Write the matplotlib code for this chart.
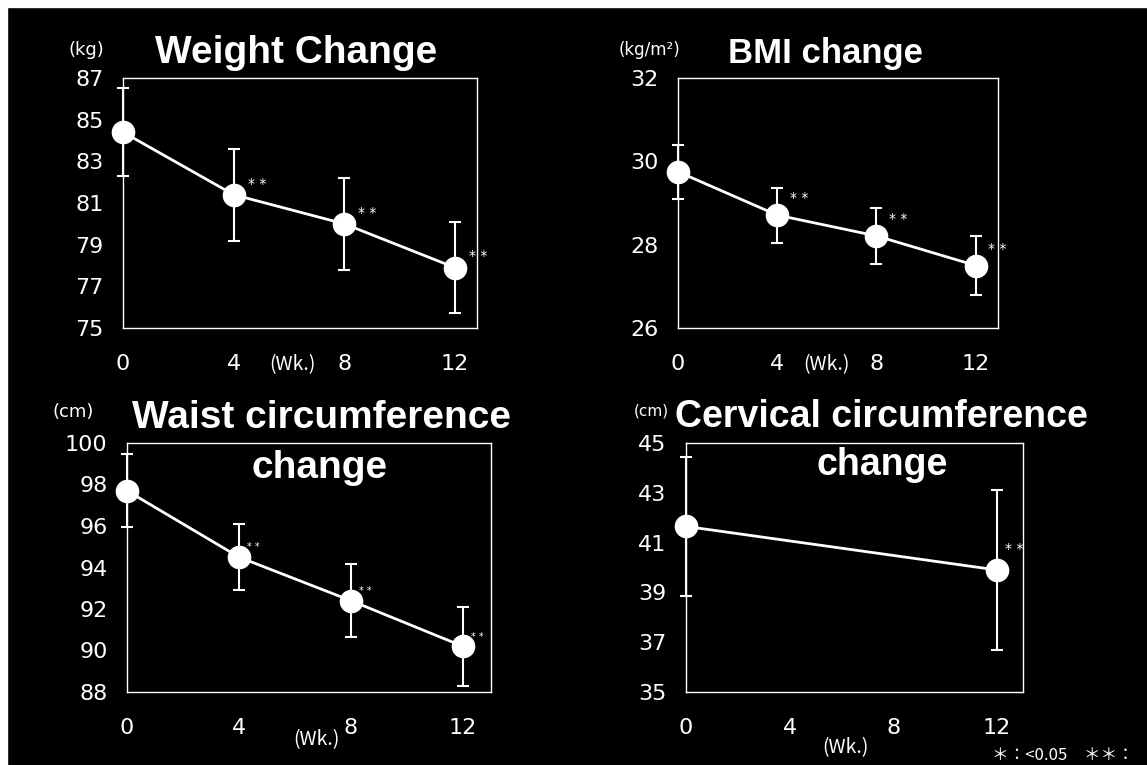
import matplotlib
matplotlib.use("Agg")
import matplotlib.pyplot as plt
from matplotlib.patches import Rectangle

W, H = 1147, 765

## values
weeks = [0, 4, 8, 12]
weight_mean = [84.4, 81.4, 80.0, 77.9]
weight_sd = [2.1, 2.2, 2.2, 2.2]
bmi_mean = [29.75, 28.71, 28.21, 27.5]
bmi_sd = [0.65, 0.66, 0.68, 0.7]
waist_mean = [97.7, 94.5, 92.4, 90.2]
waist_sd = [1.75, 1.6, 1.75, 1.9]
neck_weeks = [0, 12]
neck_mean = [41.65, 39.9]
neck_sd = [2.8, 3.2]

weight_ticks = [75, 77, 79, 81, 83, 85, 87]
bmi_ticks = [26, 28, 30, 32]
waist_ticks = [88, 90, 92, 94, 96, 98, 100]
neck_ticks = [35, 37, 39, 41, 43, 45]
week_ticks = [0, 4, 8, 12]

num_font = ['DejaVu Sans']
cjk_font = ['Noto Sans CJK JP', 'DejaVu Sans']
title_font = 'Liberation Sans'

fig = plt.figure(figsize=(W / 100, H / 100), dpi=100)
fig.patch.set_facecolor('black')
# white strips left over from the scan
fig.patches.append(Rectangle((0, 1 - 7 / H), 1, 7 / H, transform=fig.transFigure, color='white'))
fig.patches.append(Rectangle((0, 0), 7 / W, 1, transform=fig.transFigure, color='white'))


def ftext(x, y, s, **kw):
    fig.text(x / W, 1 - y / H, s, color='white', **kw)


def make_panel(box, xmax, x, mean, sd, yticks, star_off, star_size):
    l, t, r, b = box
    ax = fig.add_axes([l / W, 1 - b / H, (r - l) / W, (b - t) / H])
    ax.set_facecolor('black')
    ax.errorbar(x, mean, yerr=sd, fmt='o-', color='white', ms=16, lw=2,
                elinewidth=1.5, capsize=4, capthick=1.5, clip_on=False, zorder=3)
    for xi, yi in zip(x[1:], mean[1:]):
        ax.annotate('* *', (xi, yi), xytext=star_off, textcoords='offset points',
                    color='white', fontsize=star_size, ha='left', va='center')
    ax.set_xlim(0, xmax)
    ax.set_ylim(yticks[0], yticks[-1])
    ax.set_yticks(yticks)
    ax.set_xticks(week_ticks)
    ax.tick_params(length=0, colors='white', labelsize=16)
    ax.tick_params(axis='y', pad=14)
    ax.tick_params(axis='x', pad=19)
    for lab in ax.get_xticklabels() + ax.get_yticklabels():
        lab.set_family(num_font)
    for sp in ax.spines.values():
        sp.set_color('white')
        sp.set_linewidth(1)
    return ax


make_panel((123, 78, 477, 328), 12.8, weeks, weight_mean, weight_sd, weight_ticks, (10, 8), 10)
make_panel((678, 78, 998, 328), 12.9, weeks, bmi_mean, bmi_sd, bmi_ticks, (9, 12), 10)
make_panel((127, 443, 491, 692), 13.0, weeks, waist_mean, waist_sd, waist_ticks, (6, 7), 7)
make_panel((686, 443, 1023, 692), 13.0, neck_weeks, neck_mean, neck_sd, neck_ticks, (6, 15), 10)

# titles
ftext(296, 53, 'Weight Change', fontsize=28, weight='bold', family=title_font, ha='center', va='center')
ftext(825, 53, 'BMI change', fontsize=25, weight='bold', family=title_font, ha='center', va='center')
ftext(322, 418, 'Waist circumference', fontsize=28, weight='bold', family=title_font, ha='center', va='center')
ftext(320, 468, 'change', fontsize=28, weight='bold', family=title_font, ha='center', va='center')
ftext(881, 417, 'Cervical circumference', fontsize=27, weight='bold', family=title_font, ha='center', va='center')
ftext(882, 465, 'change', fontsize=27, weight='bold', family=title_font, ha='center', va='center')

# units
ftext(86, 50, '(kg)', fontsize=13, family=num_font, ha='center', va='center')
ftext(650, 50, '(kg/m²)', fontsize=12, family=num_font, ha='center', va='center')
ftext(73, 412, '(cm)', fontsize=13, family=num_font, ha='center', va='center')
ftext(651, 411, '(cm)', fontsize=11, family=num_font, ha='center', va='center')

# week labels
ftext(292, 365, '(Wk.)', fontsize=14, family=cjk_font, ha='center', va='center')
ftext(826, 365, '(Wk.)', fontsize=14, family=cjk_font, ha='center', va='center')
ftext(316, 740, '(Wk.)', fontsize=14, family=cjk_font, ha='center', va='center')
ftext(845, 748, '(Wk.)', fontsize=14, family=cjk_font, ha='center', va='center')

# footnote, runs to the right edge like the slide
ftext(992, 756, '＊：<0.05　＊＊：', fontsize=12, family=cjk_font, ha='left', va='center')

fig.savefig('out.png', dpi=100, facecolor='black')
